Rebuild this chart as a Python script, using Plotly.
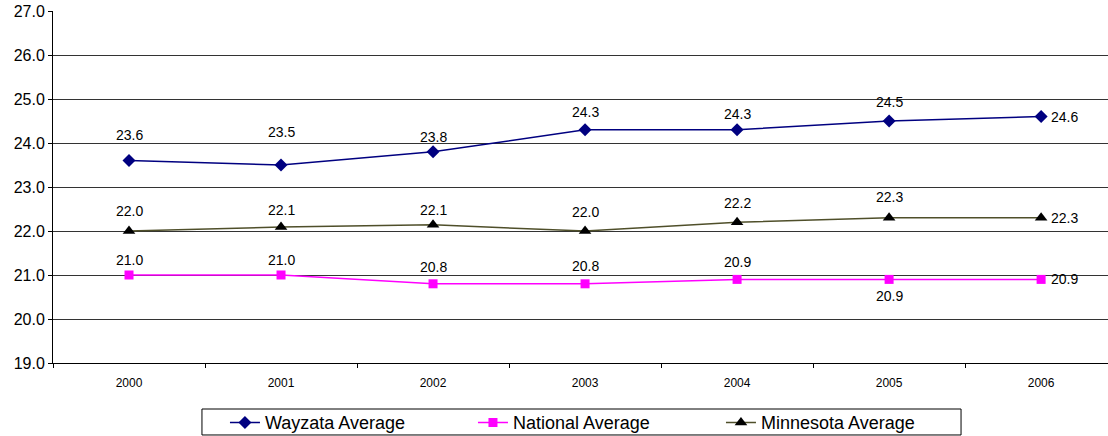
import plotly.graph_objects as go

years = ["2000", "2001", "2002", "2003", "2004", "2005", "2006"]
wayzata = [23.6, 23.5, 23.8, 24.3, 24.3, 24.5, 24.6]
national = [21.0, 21.0, 20.8, 20.8, 20.9, 20.9, 20.9]
minnesota = [22.0, 22.09, 22.14, 22.0, 22.2, 22.3, 22.3]

# label offsets in px above each point (None = label to the right)
wayzata_shift = [26, 33, 15, 18, 16, 19, None]
national_shift = [15, 15, 17, 18, 17, -17, None]
minnesota_shift = [20, 17, 15, 19, 19, 21, None]

series = [
    ("Wayzata Average", wayzata, wayzata_shift, "#000080", "#000080", "diamond", 10),
    ("National Average", national, national_shift, "#FF00FF", "#FF00FF", "square", 9),
    ("Minnesota Average", minnesota, minnesota_shift, "#4F4F2A", "#000000", "triangle-up", 11),
]

fig = go.Figure()
annotations = []
for name, vals, shifts, lcol, mcol, sym, msize in series:
    fig.add_trace(go.Scatter(
        x=years, y=vals, mode="lines+markers", name=name,
        line=dict(color=lcol, width=1.5),
        marker=dict(symbol=sym, size=msize, color=mcol),
    ))
    for i, (v, s) in enumerate(zip(vals, shifts)):
        a = dict(x=i, y=v, xref="x", yref="y", text=f"{v:.1f}", showarrow=False,
                 font=dict(size=14, color="#000000"))
        if s is None:
            a.update(xanchor="left", xshift=8)
        else:
            a.update(yshift=s)
        annotations.append(a)

# legend frame
fig.add_shape(type="rect", xref="paper", yref="paper",
              x0=0.1412, x1=0.8607, y0=-0.2045, y1=-0.1307,
              line=dict(color="#000000", width=1), fillcolor="rgba(0,0,0,0)")

fig.update_layout(
    width=1108, height=436,
    margin=dict(l=53, r=0, t=11, b=73, autoexpand=False),
    paper_bgcolor="white", plot_bgcolor="white",
    font=dict(family="Liberation Sans, Arial, sans-serif", color="#000000"),
    showlegend=True,
    annotations=annotations,
    legend=dict(
        orientation="h", x=0.163, xanchor="left", y=-0.117, yanchor="top",
        borderwidth=0, bgcolor="rgba(0,0,0,0)", font=dict(size=18),
        entrywidth=203, entrywidthmode="pixels",
    ),
)
fig.update_xaxes(
    type="category", range=[-0.5, 6.44], automargin=False,
    showline=True, linecolor="#000000", linewidth=1,
    ticks="outside", tickson="boundaries", ticklen=4, tickcolor="#000000",
    tickfont=dict(size=12), ticklabelstandoff=9, showgrid=False,
)
fig.update_yaxes(
    range=[19, 27], dtick=1, tickformat=".1f", automargin=False,
    showline=True, linecolor="#000000", linewidth=1,
    ticks="outside", ticklen=4, tickcolor="#000000",
    tickfont=dict(size=16),
    showgrid=True, gridcolor="#333333", gridwidth=1,
    zeroline=False,
)

fig.write_html(
    "out.html",
    config={"displayModeBar": False},
    post_script="document.body.style.margin='0';document.body.style.overflow='hidden';",
)
